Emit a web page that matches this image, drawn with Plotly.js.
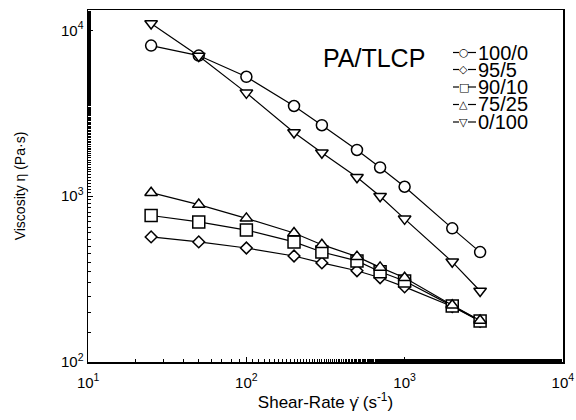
<!DOCTYPE html>
<html><head><meta charset="utf-8">
<script src="https://cdn.plot.ly/plotly-3.0.1.min.js"></script>
<style>html,body{margin:0;padding:0;background:#fff}</style>
</head><body>
<div id="chart" style="width:576px;height:420px"></div>
<script>
const shearRate = [25, 50, 100, 200, 300, 500, 700, 1000, 2000, 3000];
const seriesNames = ["100/0", "95/5", "90/10", "75/25", "0/100"];
const v100_0 = [8100, 7050, 5250, 3500, 2680, 1900, 1490, 1140, 640, 460];
const v95_5  = [568, 530, 487, 436, 396, 355, 322, 284, 216, 176];
const v90_10 = [765, 700, 625, 530, 461, 407, 350, 308, 218, 177];
const v75_25 = [1050, 890, 735, 600, 510, 432, 372, 322, 220, 178];
const v0_100 = [11000, 7000, 4200, 2420, 1830, 1300, 1000, 730, 402, 268];
const xTickVals = [10, 100, 1000, 10000];
const xTickText = ["10<sup>1</sup>", "10<sup>2</sup>", "10<sup>3</sup>", "10<sup>4</sup>"];
const yTickVals = [100, 1000, 10000];
const yTickText = ["10<sup>2</sup>", "10<sup>3</sup>", "10<sup>4</sup>"];
const legendGlyphs = ["○", "◇", "□", "△", "▽"];

const symbols = ["circle", "diamond", "square", "triangle-up", "triangle-down"];
const sizes = [11, 9, 12, 11, 11];
const allVals = [v100_0, v95_5, v90_10, v75_25, v0_100];

const traces = allVals.map((vals, i) => ({
  x: shearRate, y: vals, name: seriesNames[i], type: "scatter", mode: "lines+markers",
  showlegend: false,
  line: {color: "#000", width: 1.2},
  marker: {symbol: symbols[i], size: sizes[i], color: "#fff", line: {color: "#000", width: 1.5}}
}));

const fam = "Liberation Sans, Arial, sans-serif";
// plot-area geometry in pixels (for placing the hand-built legend)
const L = 88, R = 563, T = 10, B = 362;
const px = v => (v - L) / (R - L);
const py = v => (B - v) / (B - T);
const rowY = [52.5, 69.5, 87, 104.5, 122];
const shapes = [], annotations = [];
seriesNames.forEach((nm, i) => {
  const y = py(rowY[i]);
  shapes.push({type: "line", xref: "paper", yref: "paper", x0: px(453), x1: px(459), y0: y, y1: y, line: {color: "#000", width: 1.2}});
  shapes.push({type: "line", xref: "paper", yref: "paper", x0: px(468), x1: px(476), y0: y, y1: y, line: {color: "#000", width: 1.2}});
  annotations.push({text: legendGlyphs[i], xref: "paper", yref: "paper", x: px(463.5), y: y, xanchor: "center", yanchor: "middle",
    showarrow: false, font: {family: "DejaVu Sans", size: 11, color: "#000"}});
  annotations.push({text: nm, xref: "paper", yref: "paper", x: px(476), y: y, xanchor: "left", yanchor: "middle",
    showarrow: false, font: {family: fam, size: 20, color: "#000"}});
});
annotations.push({text: "PA/TLCP", xref: "paper", yref: "paper", x: px(321), y: py(58), xanchor: "left", yanchor: "middle",
  showarrow: false, font: {family: fam, size: 25, color: "#000"}});

const layout = {
  width: 576, height: 420,
  margin: {l: L, r: 576 - R, t: T, b: 420 - B},
  paper_bgcolor: "#fff", plot_bgcolor: "#fff",
  font: {family: fam, color: "#000"},
  showlegend: false,
  xaxis: {type: "log", range: [0.999, 4.001], showline: true, mirror: true, linecolor: "#000", linewidth: 1.5,
          showgrid: false, zeroline: false, ticks: "inside", ticklen: 5, tickcolor: "#000",
          tickvals: xTickVals, ticktext: xTickText, ticklabelstandoff: 6,
          tickfont: {family: fam, size: 15, color: "#000"},
          minor: {ticks: "inside", ticklen: 3, tickcolor: "#000", showgrid: false},
          title: {text: "Shear-Rate γ̇ (s<sup>-1</sup>)", font: {family: fam, size: 17, color: "#000"}, standoff: 6}},
  yaxis: {type: "log", range: [2, 4.123], showline: true, mirror: true, linecolor: "#000", linewidth: 1.5,
          showgrid: false, zeroline: false, ticks: "inside", ticklen: 5, tickcolor: "#000",
          tickvals: yTickVals, ticktext: yTickText,
          tickfont: {family: fam, size: 15, color: "#000"},
          minor: {ticks: "inside", ticklen: 3, tickcolor: "#000", showgrid: false},
          title: {text: "Viscosity η (Pa·s)", font: {family: fam, size: 14, color: "#000"}, standoff: 32}},
  shapes: shapes,
  annotations: annotations
};
Plotly.newPlot("chart", traces, layout, {displayModeBar: false, staticPlot: true});
</script>
</body></html>
